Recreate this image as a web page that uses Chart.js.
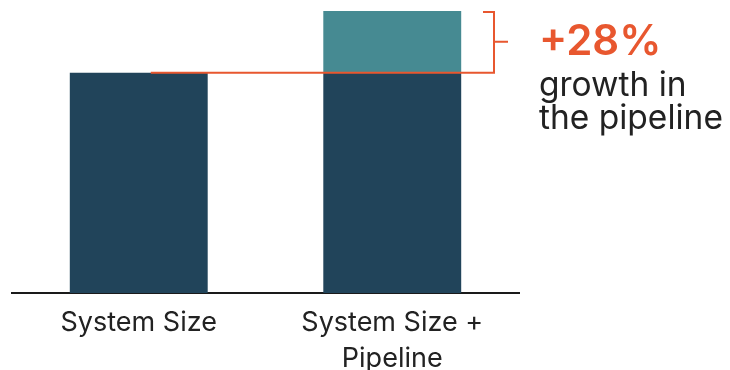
<!DOCTYPE html>
<html>
<head>
<meta charset="utf-8">
<script src="https://cdn.jsdelivr.net/npm/chart.js@4"></script>
<style>
  html, body { margin: 0; padding: 0; background: #ffffff; }
  #wrap { width: 730px; height: 370px; position: relative; }
</style>
</head>
<body>
<div id="wrap"><canvas id="c" width="730" height="370"></canvas></div>
<script>
// Categories and stacked series
const categories = [["System Size"], ["System Size +", "Pipeline"]];
const systemSize = [100, 100];
const pipeline = [0, 28];
const growthLabel = "+28%";
const growthText = ["growth in", "the pipeline"];

const DARK = "#21445a";
const TEAL = "#468a92";
const ORANGE = "#e8572f";
const TEXT = "#222222";
const FONT = "Inter, 'Open Sans', sans-serif";

// Orange reference line at the top of the base, bracket around the pipeline segment and callout text
const growthBracket = {
  id: "growthBracket",
  afterDatasetsDraw(chart) {
    const ctx = chart.ctx;
    const y = chart.scales.y;
    const x = chart.scales.x;
    const meta0 = chart.getDatasetMeta(0);
    const baseTop = y.getPixelForValue(systemSize[1]);
    const total = y.getPixelForValue(systemSize[1] + pipeline[1]);
    const firstBar = meta0.data[0];
    const lineStart = firstBar.x - firstBar.width / 2 + 81;
    const bx = x.right - 25;
    ctx.save();
    ctx.strokeStyle = ORANGE;
    ctx.lineWidth = 2;
    ctx.beginPath();
    ctx.moveTo(lineStart, baseTop);
    ctx.lineTo(bx, baseTop);
    ctx.lineTo(bx, total + 1);
    ctx.lineTo(bx - 11, total + 1);
    ctx.moveTo(bx, (baseTop + total) / 2);
    ctx.lineTo(bx + 14, (baseTop + total) / 2);
    ctx.stroke();

    ctx.textAlign = "left";
    ctx.textBaseline = "alphabetic";
    ctx.fillStyle = ORANGE;
    ctx.font = "600 42px " + FONT;
    ctx.fillText(growthLabel, 539, 55);
    ctx.fillStyle = TEXT;
    ctx.font = "33.5px " + FONT;
    ctx.fillText(growthText[0], 539, 96);
    ctx.fillText(growthText[1], 539, 129);
    ctx.restore();
  }
};

new Chart(document.getElementById("c"), {
  type: "bar",
  data: {
    labels: categories,
    datasets: [
      { label: "System Size", data: systemSize, backgroundColor: DARK, borderWidth: 0 },
      { label: "Pipeline", data: pipeline, backgroundColor: TEAL, borderWidth: 0 }
    ]
  },
  options: {
    responsive: false,
    animation: false,
    devicePixelRatio: 1,
    layout: { padding: { left: 12, right: 211, top: 11, bottom: 0 } },
    plugins: { legend: { display: false }, tooltip: { enabled: false } },
    datasets: { bar: { categoryPercentage: 1, barPercentage: 0.544 } },
    scales: {
      x: {
        stacked: true,
        grid: { display: false, drawTicks: false },
        border: { display: true, color: "#1a1a1a", width: 2 },
        ticks: {
          color: TEXT,
          padding: 12,
          font: { family: FONT, size: 27, lineHeight: 1.33 }
        },
        afterFit(scale) { scale.height = 77; }
      },
      y: {
        stacked: true,
        display: false,
        min: 0,
        max: 128
      }
    }
  },
  plugins: [growthBracket]
});
</script>
</body>
</html>
